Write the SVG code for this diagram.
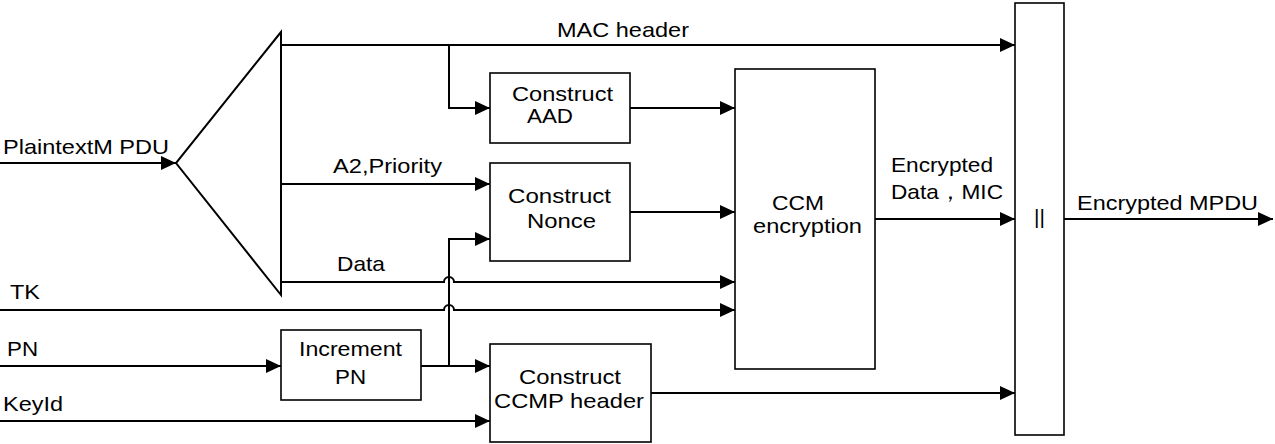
<svg xmlns="http://www.w3.org/2000/svg" width="1275" height="444" viewBox="0 0 1275 444">
<style>
.bg{fill:#fff}
.box{fill:#fff;stroke:#000;stroke-width:1.6}
.ln{fill:none;stroke:#000;stroke-width:2;marker-end:url(#ah)}
text{font-family:"Liberation Sans",Arial,sans-serif;font-size:21px;fill:#000}
</style>
<defs>
<marker id="ah" markerUnits="userSpaceOnUse" markerWidth="15" markerHeight="14" viewBox="0 0 15 14" refX="15" refY="7" orient="auto">
<path d="M0,0 L15,7 L0,14 Z" fill="#000"/>
</marker>
</defs>
<rect class="bg" width="1275" height="444"/>
<g id="connectors">
<path class="ln" d="M0,163 H176"/>
<path class="ln" d="M281,45 H1015"/>
<path class="ln" d="M449,45 V108 H490"/>
<path class="ln" d="M281,184 H490"/>
<path class="ln" d="M281,282 H444 A5,5 0 0 1 454,282 H735"/>
<path class="ln" d="M0,310 H444 A5,5 0 0 1 454,310 H735"/>
<path class="ln" d="M0,366 H281"/>
<path class="ln" d="M421,366 H490"/>
<path class="ln" d="M449,366 V239 H490"/>
<path class="ln" d="M0,421 H490"/>
<path class="ln" d="M630,108 H735"/>
<path class="ln" d="M630,212 H735"/>
<path class="ln" d="M875,219 H1015"/>
<path class="ln" d="M651,393 H1015"/>
<path class="ln" d="M1064,219 H1273"/>
</g>
<g id="labels">
<text x="557" y="37" textLength="132" lengthAdjust="spacingAndGlyphs">MAC header</text>
<text x="3" y="154" textLength="166" lengthAdjust="spacingAndGlyphs">PlaintextM PDU</text>
<text x="333" y="173" textLength="109" lengthAdjust="spacingAndGlyphs">A2,Priority</text>
<text x="337" y="271" textLength="48" lengthAdjust="spacingAndGlyphs">Data</text>
<text x="10" y="299" textLength="30" lengthAdjust="spacingAndGlyphs">TK</text>
<text x="7" y="356" textLength="31" lengthAdjust="spacingAndGlyphs">PN</text>
<text x="3" y="411" textLength="60" lengthAdjust="spacingAndGlyphs">KeyId</text>
<text x="891" y="172" textLength="102" lengthAdjust="spacingAndGlyphs">Encrypted</text>
<text x="891" y="199" textLength="112" lengthAdjust="spacingAndGlyphs">Data，MIC</text>
<text x="1077" y="210" textLength="181" lengthAdjust="spacingAndGlyphs">Encrypted MPDU</text>
</g>
<g id="splitter">
<polygon points="281,32 176,163 281,295" fill="none" stroke="#000" stroke-width="2"/>
</g>
<g id="construct-aad">
<rect class="box" x="490" y="73" width="140" height="70"/>
<text x="512" y="101" textLength="101" lengthAdjust="spacingAndGlyphs">Construct</text>
<text x="527" y="123" textLength="46" lengthAdjust="spacingAndGlyphs">AAD</text>
</g>
<g id="construct-nonce">
<rect class="box" x="490" y="163" width="140" height="98"/>
<text x="508" y="203" textLength="103" lengthAdjust="spacingAndGlyphs">Construct</text>
<text x="527" y="228" textLength="69" lengthAdjust="spacingAndGlyphs">Nonce</text>
</g>
<g id="ccm-encryption">
<rect class="box" x="735" y="69" width="140" height="300"/>
<text x="772" y="210" textLength="52" lengthAdjust="spacingAndGlyphs">CCM</text>
<text x="753" y="233" textLength="109" lengthAdjust="spacingAndGlyphs">encryption</text>
</g>
<g id="concat">
<rect class="box" x="1015" y="3" width="49" height="432"/>
<text x="1034" y="224" font-size="22">||</text>
</g>
<g id="increment-pn">
<rect class="box" x="281" y="330" width="140" height="70"/>
<text x="299" y="356" textLength="103" lengthAdjust="spacingAndGlyphs">Increment</text>
<text x="335" y="384" textLength="31" lengthAdjust="spacingAndGlyphs">PN</text>
</g>
<g id="construct-ccmp-header">
<rect class="box" x="490" y="344" width="161" height="98"/>
<text x="519" y="384" textLength="102" lengthAdjust="spacingAndGlyphs">Construct</text>
<text x="494" y="408" textLength="150" lengthAdjust="spacingAndGlyphs">CCMP header</text>
</g>
</svg>
